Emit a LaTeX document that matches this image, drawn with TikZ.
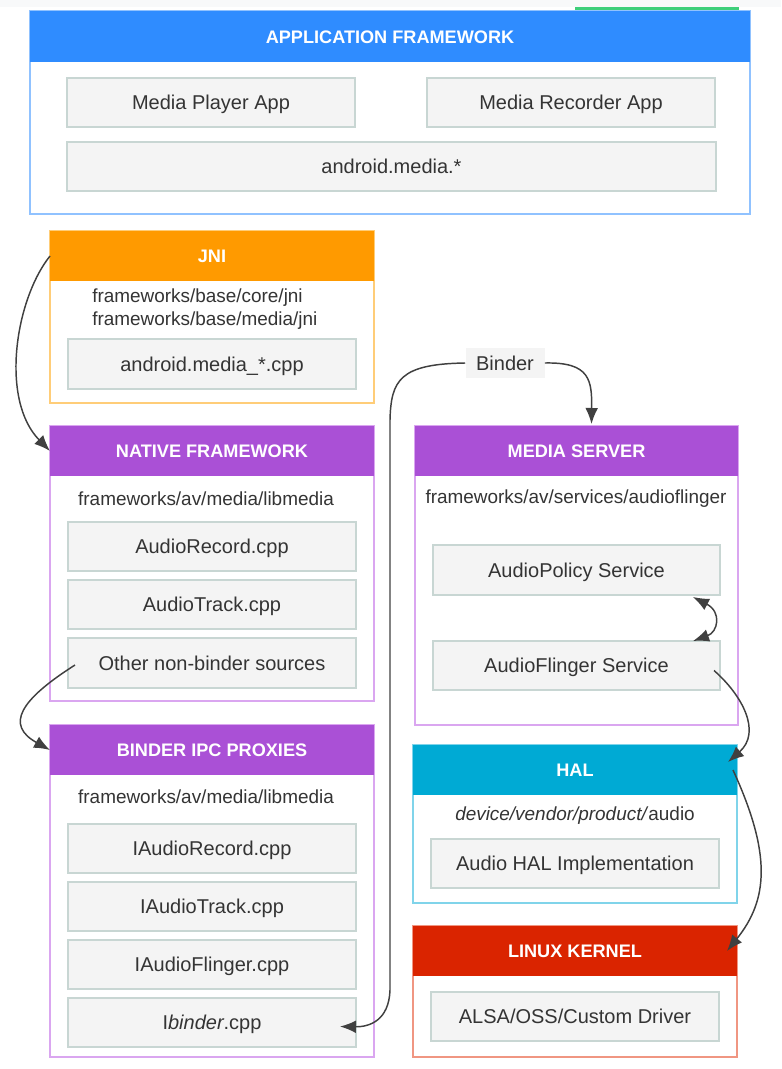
\documentclass[tikz,border=0pt]{standalone}
\usepackage{fontspec}
\setmainfont{Liberation Sans}
\usetikzlibrary{arrows.meta,calc}

\definecolor{appblue}{RGB}{47,140,255}
\definecolor{appline}{RGB}{144,194,255}
\definecolor{jniorange}{RGB}{255,154,0}
\definecolor{jniline}{RGB}{255,205,120}
\definecolor{nativepurple}{RGB}{170,80,214}
\definecolor{nativeline}{RGB}{218,166,240}
\definecolor{halcyan}{RGB}{0,170,212}
\definecolor{halline}{RGB}{128,212,234}
\definecolor{kernred}{RGB}{218,36,0}
\definecolor{kernline}{RGB}{240,150,130}
\definecolor{itemfill}{RGB}{244,244,244}
\definecolor{itemline}{RGB}{200,214,211}
\definecolor{txt}{RGB}{52,52,52}
\definecolor{arrowc}{RGB}{64,64,64}
\definecolor{topgray}{RGB}{248,249,250}
\definecolor{topgreen}{RGB}{62,207,122}

\begin{document}
\begin{tikzpicture}[x=0.75pt,y=0.75pt,yscale=-1,xscale=1,
  >={Latex[length=12pt,width=9.5pt]},
  frame/.style={draw, line width=0.9pt, fill=white, anchor=north west, inner sep=0pt, outer sep=0pt, minimum width=243pt},
  hdr/.style={anchor=north west, inner sep=0pt, outer sep=0pt, minimum height=37.5pt, minimum width=243pt, text=white, text height=9.8pt, text depth=0pt, font=\fontsize{13.6}{16}\selectfont\bfseries},
  item/.style={draw=itemline, fill=itemfill, line width=0.9pt, anchor=north west, inner sep=0pt, outer sep=0pt, minimum width=216pt, minimum height=36.75pt, text=txt, text height=10.7pt, text depth=0pt, font=\fontsize{15}{17}\selectfont},
  srcdir/.style={text=txt, inner sep=0.75pt, font=\fontsize{14.2}{17}\selectfont},
  flow/.style={draw=arrowc, line width=1.1pt, ->}]
\useasboundingbox (0,0) rectangle (781,1069);

% top strip
\fill [topgray] (0,0) rectangle (781,7);
\fill [topgreen] (575,7) rectangle (739,12);

% Application framework
\node [frame, draw=appline, minimum width=540pt, minimum height=152.25pt] (appframe) at (30,11) {};
\node [hdr, fill=appblue, minimum width=540pt, minimum height=38.25pt] (apphdr) at (30,11) {APPLICATION FRAMEWORK};
\node [item] (mplayer) at (67,78) {Media Player App};
\node [item] (mrecorder) at (427,78) {Media Recorder App};
\node [item, minimum width=486.75pt] (amedia) at (67,142) {android.media.*};

% JNI
\node [frame, draw=jniline, minimum height=129pt] (jniframe) at (50,231) {};
\node [hdr, fill=jniorange] (jnihdr) at (50,231) {JNI};
\node [srcdir, align=left, anchor=west] (jnidir) at (91,309) {frameworks/base/core/jni\\frameworks/base/media/jni};
\node [item, minimum height=37.5pt] (jnicpp) at (68,339) {android.media\_*.cpp};

% Native framework
\node [frame, draw=nativeline, minimum height=206.25pt] (nativeframe) at (50,426) {};
\node [hdr, fill=nativepurple] (nativehdr) at (50,426) {NATIVE FRAMEWORK};
\node [srcdir] (nativedir) at (206,499) {frameworks/av/media/libmedia};
\node [item] (arec) at (68,522) {AudioRecord.cpp};
\node [item] (atrack) at (68,580) {AudioTrack.cpp};
\node [item, minimum height=37.5pt] (other) at (68,638) {Other non-binder sources};

% Binder IPC proxies
\node [frame, draw=nativeline, minimum height=249pt] (ipcframe) at (50,725) {};
\node [hdr, fill=nativepurple] (ipchdr) at (50,725) {BINDER IPC PROXIES};
\node [srcdir] (ipcdir) at (206,797) {frameworks/av/media/libmedia};
\node [item] (iarec) at (68,824) {IAudioRecord.cpp};
\node [item] (iatrack) at (68,882) {IAudioTrack.cpp};
\node [item] (iaflinger) at (68,940) {IAudioFlinger.cpp};
\node [item] (ibinder) at (68,998) {I\textit{binder}.cpp};

% Media server
\node [frame, draw=nativeline, minimum width=242.25pt, minimum height=224.25pt] (msrvframe) at (415,426) {};
\node [hdr, fill=nativepurple, minimum width=242.25pt] (msrvhdr) at (415,426) {MEDIA SERVER};
\node [srcdir] (msrvdir) at (576,499) {frameworks/av/services/audioflinger};
\node [item, minimum width=215.25pt, minimum height=37.5pt] (apolicy) at (433,545) {AudioPolicy Service};
\node [item, minimum width=215.25pt] (aflinger) at (433,641) {AudioFlinger Service};

% HAL
\node [frame, draw=halline, minimum height=118.5pt] (halframe) at (413,745) {};
\node [hdr, fill=halcyan] (halhdr) at (413,745) {HAL};
\node [srcdir] (haldir) at (575,816) {\textit{device/vendor/product/}audio};
\node [item] (halimpl) at (431,839) {Audio HAL Implementation};

% Linux kernel
\node [frame, draw=kernline, minimum height=98.25pt] (kernframe) at (413,926) {};
\node [hdr, fill=kernred] (kernhdr) at (413,926) {LINUX KERNEL};
\node [item] (alsa) at (431,992) {ALSA/OSS/Custom Driver};

% Text Node
\node [fill=itemfill, inner sep=0pt, minimum width=59.25pt, minimum height=22.5pt, text=txt, font=\fontsize{15}{17}\selectfont] (binderlbl) at (505,363) {Binder};

% Curve Lines
\draw [flow] (jnihdr.west) .. controls (15,300) and (0,400) .. (nativehdr.west);
\draw [flow] ($(other.west)+(7,2)$) .. controls (20,700) and (5,725) .. (ipchdr.west);
\draw [flow] (binderlbl.west) .. controls (400,364) and (391,380) .. (390,420) -- (390,990) .. controls (389,1020) and (370,1027) .. ($(ibinder.east)+(-16,4)$);
\draw [flow] (binderlbl.east) .. controls (590,362) and (592,380) .. ($(msrvhdr.north)+(15,-2)$);
\draw [flow, <->] ($(apolicy.south east)+(-27,2)$) .. controls (722,612) and (718,632) .. ($(aflinger.north east)+(-27,0)$);
\draw [flow] ($(aflinger.east)+(-6,5)$) .. controls (742,695) and (762,732) .. ($(halhdr.east)+(-9,-8)$);
\draw [flow] ($(halhdr.east)+(-4,0)$) .. controls (772,855) and (768,900) .. ($(kernhdr.east)+(-10,0)$);

\end{tikzpicture}
\end{document}
